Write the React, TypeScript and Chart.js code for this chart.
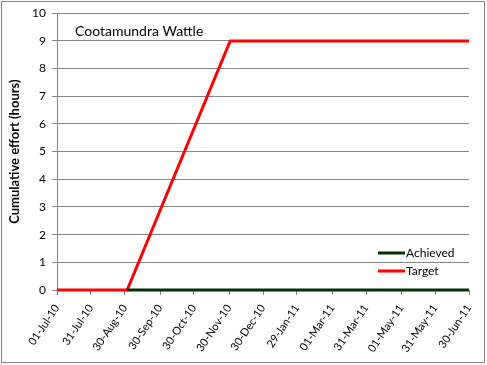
import React, { useEffect, useRef } from 'react';
import { Chart, registerables } from 'chart.js';

Chart.register(...registerables);

const chartTitle = 'Cootamundra Wattle';
const yAxisTitle = 'Cumulative effort (hours)';
const tickLabels = [
  '01-Jul-10', '31-Jul-10', '30-Aug-10', '30-Sep-10', '30-Oct-10', '30-Nov-10',
  '30-Dec-10', '29-Jan-11', '01-Mar-11', '31-Mar-11', '01-May-11', '31-May-11', '30-Jun-11',
];
// days since 01-Jul-10
const tickDays = [0, 30, 60, 91, 121, 152, 182, 212, 243, 273, 304, 334, 364];
const achievedDays = [62, 364];
const achievedHours = [0, 0];
const targetDays = [0, 62, 153, 364];
const targetHours = [0, 0, 9, 9];
const seriesNames = ['Achieved', 'Target'];
const seriesColors = ['#003300', '#FF0000'];

const GRID = '#868686';
const FONT = 'Lato, "Liberation Sans", sans-serif';

const decorPlugin = {
  id: 'decor',
  beforeDraw(chart: any) {
    const ctx = chart.ctx;
    ctx.save();
    ctx.fillStyle = '#ffffff';
    ctx.fillRect(0, 0, chart.width, chart.height);
    ctx.strokeStyle = GRID;
    ctx.lineWidth = 1;
    ctx.strokeRect(1.5, 1.5, 483, 361);
    ctx.restore();
  },
  afterDraw(chart: any) {
    const { ctx, chartArea } = chart;
    ctx.save();
    // in-plot title
    ctx.fillStyle = '#000000';
    ctx.font = `14px ${FONT}`;
    ctx.textAlign = 'left';
    ctx.textBaseline = 'middle';
    ctx.fillText(chartTitle, chartArea.left + 18, chartArea.top + 18);
    // legend
    ctx.font = `12px ${FONT}`;
    const rowsY = [chartArea.bottom - 37, chartArea.bottom - 19];
    seriesNames.forEach((name, i) => {
      const y = rowsY[i];
      ctx.strokeStyle = seriesColors[i];
      ctx.lineWidth = 3;
      ctx.beginPath();
      ctx.moveTo(chartArea.right - 91, y);
      ctx.lineTo(chartArea.right - 64, y);
      ctx.stroke();
      ctx.fillStyle = '#000000';
      ctx.fillText(name, chartArea.right - 63, y);
    });
    ctx.restore();
  },
};

export default function App() {
  const ref = useRef<HTMLCanvasElement>(null);
  useEffect(() => {
    if (!ref.current) return;
    const chart = new Chart(ref.current, {
      type: 'line',
      data: {
        datasets: [
          {
            label: seriesNames[0],
            data: achievedDays.map((d, i) => ({ x: d, y: achievedHours[i] })),
            borderColor: seriesColors[0],
            backgroundColor: seriesColors[0],
            borderWidth: 3,
            pointRadius: 0,
            tension: 0,
            clip: false,
          },
          {
            label: seriesNames[1],
            data: targetDays.map((d, i) => ({ x: d, y: targetHours[i] })),
            borderColor: seriesColors[1],
            backgroundColor: seriesColors[1],
            borderWidth: 3,
            pointRadius: 0,
            tension: 0,
            clip: false,
          },
        ],
      },
      options: {
        animation: false,
        responsive: false,
        devicePixelRatio: 1,
        layout: { padding: { left: 0, top: 9, right: 18, bottom: 0 } },
        plugins: { legend: { display: false }, tooltip: { enabled: false } },
        scales: {
          x: {
            type: 'linear',
            min: tickDays[0],
            max: tickDays[tickDays.length - 1],
            afterBuildTicks: (scale: any) => {
              scale.ticks = tickDays.map((v) => ({ value: v }));
            },
            afterFit: (scale: any) => {
              scale.height = 75;
            },
            ticks: {
              autoSkip: false,
              minRotation: 56,
              maxRotation: 56,
              padding: 7,
              color: '#000000',
              font: { family: FONT, size: 11 },
              callback: (v: any) => {
                const i = tickDays.indexOf(Number(v));
                return i >= 0 ? tickLabels[i] : '';
              },
            },
            grid: { drawOnChartArea: false, drawTicks: true, tickLength: 5, color: GRID },
            border: { display: true, color: GRID },
          },
          y: {
            min: 0,
            max: 10,
            afterFit: (scale: any) => {
              scale.width = 57;
            },
            ticks: {
              stepSize: 1,
              padding: 6,
              color: '#000000',
              font: { family: FONT, size: 12 },
            },
            grid: { color: GRID, tickLength: 5 },
            border: { display: true, color: GRID },
            title: {
              display: true,
              text: yAxisTitle,
              color: '#000000',
              font: { family: FONT, size: 13, weight: 'bold' },
              padding: { top: 7, bottom: 0 },
            },
          },
        },
      },
      plugins: [decorPlugin],
    } as any);
    return () => chart.destroy();
  }, []);
  return (
    <div style={{ position: 'fixed', left: 0, top: 0, width: 487, height: 365 }}>
      <canvas ref={ref} width={487} height={365} style={{ width: 487, height: 365, display: 'block' }} />
    </div>
  );
}
